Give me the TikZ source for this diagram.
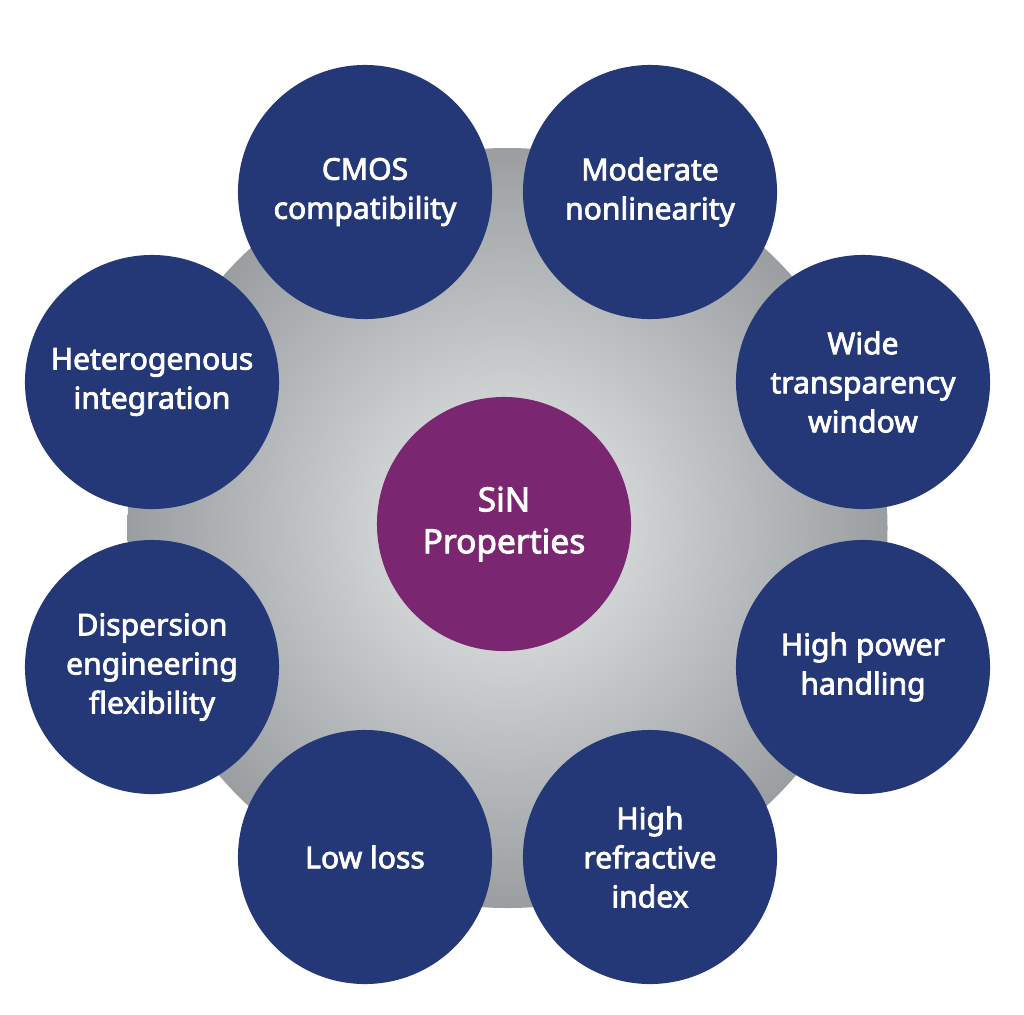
\documentclass[tikz,border=0pt]{standalone}
\usepackage{fontspec}
\setmainfont{Noto Sans}[FakeBold=2.6]
\definecolor{propblue}{HTML}{243878}
\definecolor{sinpurple}{HTML}{7A2670}
\definecolor{bginner}{HTML}{EAECED}
\definecolor{bgouter}{HTML}{9A9EA1}

\begin{document}
\begin{tikzpicture}[x=0.025cm, y=-0.025cm,
			prop/.style={circle, fill=propblue, text=white, inner sep=0pt,
				minimum size=6.35cm, align=center,
				font=\fontsize{21.4}{27.8}\selectfont},
			core/.style={prop, fill=sinpurple,
				font=\fontsize{23.8}{29.8}\selectfont}]
			\useasboundingbox (0,0) rectangle (1024,1014);
			% grey backdrop
			\shade[inner color=bginner, outer color=bgouter] (507.5,528) circle (380);
			\node[core] (sin) at (504,524) {SiN\\Properties};
			\node[prop] (cmos) at (365,192) {CMOS\\compatibility};
			\node[prop] (nonlin) at (650,192) {Moderate\\nonlinearity};
			\node[prop] (wide) at (863,382) {Wide\\transparency\\window};
			\node[prop] (power) at (863,667) {High power\\handling};
			\node[prop] (index) at (650,857) {High\\refractive\\index};
			\node[prop] (loss) at (365,857) {Low loss};
			\node[prop] (disp) at (152,667) {Dispersion\\engineering\\flexibility};
			\node[prop] (hetero) at (152,382) {Heterogenous\\integration};
\end{tikzpicture}
\end{document}
